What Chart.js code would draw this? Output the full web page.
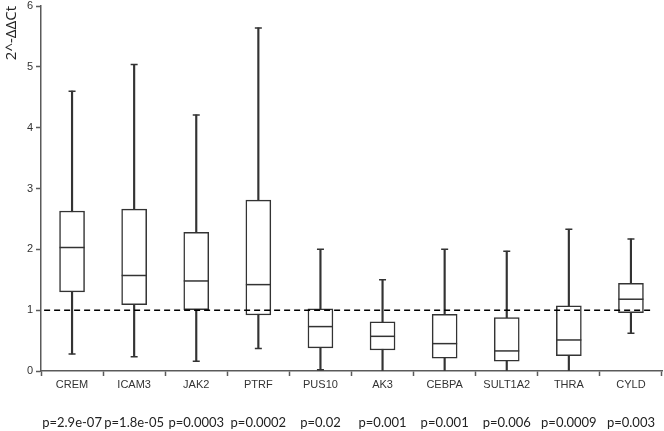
<!DOCTYPE html>
<html>
<head>
<meta charset="utf-8">
<script src="https://cdn.jsdelivr.net/npm/chart.js@4.4.0/dist/chart.umd.min.js"></script>
<style>
  html, body { margin: 0; padding: 0; background: #fff; overflow: hidden; }
  canvas { display: block; }
</style>
</head>
<body>
<canvas id="chart" width="664" height="431"></canvas>
<script>
// genes and p-values under each box
var genes = ["CREM", "ICAM3", "JAK2", "PTRF", "PUS10", "AK3", "CEBPA", "SULT1A2", "THRA", "CYLD"];
var pValues = ["p=2.9e-07", "p=1.8e-05", "p=0.0003", "p=0.0002", "p=0.02", "p=0.001", "p=0.001", "p=0.006", "p=0.0009", "p=0.003"];

// box plot statistics
var whiskerMin = [0.28, 0.235, 0.16, 0.37, 0.02, 0, 0, 0, 0, 0.62];
var boxLow     = [1.30, 1.09, 1.01, 0.92, 0.38, 0.345, 0.21, 0.16, 0.25, 0.96];
var medians    = [2.03, 1.57, 1.48, 1.42, 0.73, 0.57, 0.45, 0.33, 0.51, 1.18];
var boxHigh    = [2.63, 2.66, 2.28, 2.81, 1.02, 0.81, 0.93, 0.88, 1.07, 1.44];
var whiskerMax = [4.60, 5.04, 4.21, 5.64, 2.00, 1.50, 2.00, 1.97, 2.33, 2.17];

var yTicks = [0, 1, 2, 3, 4, 5, 6];
var refLevel = 1;

var ink = "#333333";
var axisColor = "#5a5a5a";

var boxes = genes.map(function (g, i) { return [boxLow[i], boxHigh[i]]; });
var whiskers = genes.map(function (g, i) { return [whiskerMin[i], whiskerMax[i]]; });
// no cap where the whisker runs down onto the axis
var lowCaps = whiskerMin.map(function (v) { return v > 0 ? v : null; });

function noSidePadding(scale) {
    scale.paddingLeft = 0;
    scale.paddingRight = 0;
}

new Chart(document.getElementById("chart"), {
    type: "bar",
    data: {
        labels: genes,
        datasets: [
            {
                label: "whisker",
                data: whiskers,
                backgroundColor: ink,
                borderWidth: 0,
                barThickness: 1.5,
                grouped: false,
                order: 5
            },
            {
                label: "box",
                data: boxes,
                backgroundColor: "#ffffff",
                borderColor: ink,
                borderWidth: 1.5,
                borderSkipped: false,
                barThickness: 25,
                grouped: false,
                order: 4
            },
            {
                type: "line",
                label: "median",
                data: medians,
                showLine: false,
                pointStyle: "line",
                pointRadius: 12.5,
                pointBorderWidth: 1.5,
                pointBorderColor: ink,
                order: 1
            },
            {
                type: "line",
                label: "max",
                data: whiskerMax,
                showLine: false,
                pointStyle: "line",
                pointRadius: 3.5,
                pointBorderWidth: 1.5,
                pointBorderColor: ink,
                order: 1
            },
            {
                type: "line",
                label: "min",
                data: lowCaps,
                showLine: false,
                pointStyle: "line",
                pointRadius: 3.5,
                pointBorderWidth: 1.5,
                pointBorderColor: ink,
                order: 1
            },
            {
                type: "line",
                label: "reference",
                xAxisID: "xRef",
                data: [{ x: -0.45, y: refLevel }, { x: 9.35, y: refLevel }],
                borderColor: "#000000",
                borderWidth: 1.5,
                borderDash: [6, 4],
                pointRadius: 0,
                order: 0
            }
        ]
    },
    options: {
        responsive: false,
        animation: false,
        layout: { autoPadding: false, padding: { right: 2, top: 0, bottom: 0, left: 0 } },
        plugins: {
            legend: { display: false },
            tooltip: { enabled: false }
        },
        scales: {
            x: {
                offset: true,
                weight: 1,
                afterFit: function (scale) { noSidePadding(scale); scale.height = 20; },
                grid: { display: true, drawOnChartArea: false, offset: true, tickLength: 5, tickColor: axisColor, tickWidth: 1.5 },
                border: { display: true, color: axisColor, width: 1.5 },
                ticks: {
                    color: ink,
                    padding: 2,
                    maxRotation: 0,
                    autoSkip: false,
                    font: { family: "'Liberation Sans', Arial, sans-serif", size: 11 }
                }
            },
            xP: {
                type: "category",
                labels: pValues,
                position: "bottom",
                offset: true,
                weight: 2,
                afterFit: function (scale) { noSidePadding(scale); scale.height = 40; },
                grid: { display: false, drawTicks: false },
                border: { display: false },
                ticks: {
                    color: "#222222",
                    padding: 24,
                    maxRotation: 0,
                    autoSkip: false,
                    font: { family: "Lato, 'Open Sans', sans-serif", size: 13 }
                }
            },
            xRef: {
                type: "linear",
                min: -0.5,
                max: 9.5,
                offset: false,
                display: false,
                afterFit: noSidePadding
            },
            y: {
                min: 0,
                max: 6,
                afterBuildTicks: function (scale) {
                    scale.ticks = yTicks.map(function (v) { return { value: v }; });
                },
                afterFit: function (scale) {
                    scale.width = 41;
                    scale.paddingTop = 6;
                    scale.paddingBottom = 0;
                    noSidePadding(scale);
                },
                grid: { display: true, drawOnChartArea: false, tickLength: 5, tickColor: axisColor, tickWidth: 1.5 },
                border: { display: true, color: axisColor, width: 1.5 },
                ticks: {
                    color: ink,
                    padding: 3,
                    font: { family: "'Liberation Sans', Arial, sans-serif", size: 11 }
                },
                title: {
                    display: true,
                    text: "2^-ΔΔCt",
                    align: "end",
                    color: "#222222",
                    padding: { top: 3, bottom: 2 },
                    font: { family: "'Open Sans', sans-serif", size: 15 }
                }
            }
        }
    }
});
</script>
</body>
</html>
